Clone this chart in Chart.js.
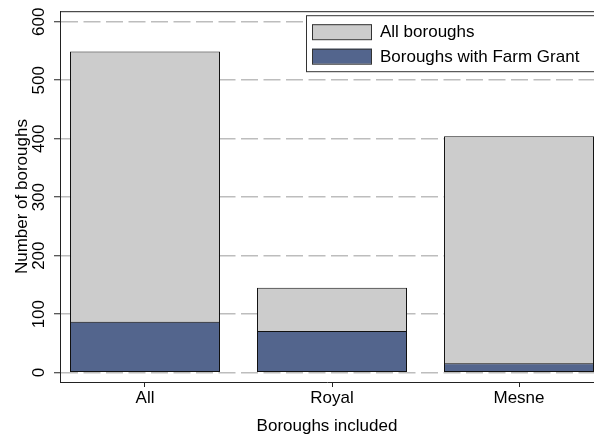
<!DOCTYPE html>
<html>
<head>
<meta charset="utf-8">
<script src="https://cdn.jsdelivr.net/npm/chart.js@4/dist/chart.umd.min.js"></script>
<style>
  body { margin: 0; background: #fff; }
  #chart { display: block; }
</style>
</head>
<body>
<canvas id="chart" width="594" height="440"></canvas>
<script>
  // Borough counts
  const categories = ['All', 'Royal', 'Mesne'];
  const allBoroughs = [549, 145, 404];
  const farmGrant = [87, 71, 16];
  const yTicks = [0, 100, 200, 300, 400, 500, 600];
  const seriesLabels = ['All boroughs', 'Boroughs with Farm Grant'];

  const FONT = 'Liberation Sans, Arial, Helvetica, sans-serif';
  const GRAY = '#cccccc';
  const BLUE = '#53658d';
  const EDGE = '#111';

  // Top frame line + boxed legend inside the plot
  const framePlugin = {
    id: 'frame',
    afterDraw(chart) {
      const ctx = chart.ctx;
      const a = chart.chartArea;
      ctx.save();
      ctx.strokeStyle = '#222';
      ctx.lineWidth = 1;
      ctx.beginPath();
      ctx.moveTo(a.left, a.top + 0.5);
      ctx.lineTo(a.right, a.top + 0.5);
      ctx.stroke();

      const lx = a.left + 246, ly = a.top + 4;
      ctx.fillStyle = '#fff';
      ctx.fillRect(lx, ly, a.right - lx + 5, 56);
      ctx.strokeStyle = '#333';
      ctx.strokeRect(lx + 0.5, ly + 0.5, a.right - lx + 5, 56);

      const fills = [GRAY, BLUE];
      ctx.font = '17px ' + FONT;
      ctx.textBaseline = 'middle';
      seriesLabels.forEach((txt, i) => {
        const ry = ly + 16.5 + i * 24.5;
        ctx.fillStyle = fills[i];
        ctx.fillRect(lx + 6, ry - 7.5, 60, 15);
        ctx.strokeStyle = '#333';
        ctx.strokeRect(lx + 6.5, ry - 7, 59, 15);
        ctx.fillStyle = '#000';
        ctx.fillText(txt, lx + 74, ry + 1);
      });
      ctx.restore();
    }
  };

  const ctx = document.getElementById('chart').getContext('2d');
  const chart = new Chart(ctx, {
    type: 'bar',
    data: {
      datasets: [{
        label: seriesLabels[0],
        data: allBoroughs.map((v, i) => ({ x: i, y: v })),
        backgroundColor: GRAY,
        borderColor: EDGE,
        borderWidth: 1,
        borderSkipped: false,
        order: 2
      }, {
        label: seriesLabels[1],
        data: farmGrant.map((v, i) => ({ x: i, y: v })),
        backgroundColor: BLUE,
        borderColor: EDGE,
        borderWidth: 1,
        borderSkipped: false,
        order: 1
      }]
    },
    options: {
      responsive: false,
      animation: false,
      grouped: false,
      barPercentage: 0.802,
      categoryPercentage: 1,
      layout: { padding: { top: 10, right: 0, left: 0, bottom: 0 } },
      plugins: {
        legend: { display: false },
        tooltip: { enabled: false }
      },
      scales: {
        x: {
          type: 'linear',
          offset: false,
          min: -0.4545,
          max: 2.401,
          afterBuildTicks: s => { s.ticks = categories.map((c, i) => ({ value: i })); },
          afterFit: s => { s.height = 58; },
          grid: { display: true, offset: false, drawOnChartArea: false, tickLength: 5, tickColor: '#222' },
          border: { color: '#222', width: 1 },
          ticks: {
            color: '#000',
            font: { family: FONT, size: 17 },
            padding: 1,
            maxRotation: 0,
            callback: v => categories[v]
          },
          title: {
            display: true,
            text: 'Boroughs included',
            color: '#000',
            font: { family: FONT, size: 17 },
            padding: { top: 0, bottom: 3 }
          }
        },
        y: {
          min: -16,
          max: 618,
          afterBuildTicks: s => { s.ticks = yTicks.map(v => ({ value: v })); },
          afterFit: s => { s.width = 60; },
          grid: {
            color: '#bdbdbd',
            lineWidth: 1.5,
            tickBorderDash: [],
            tickColor: '#222',
            tickWidth: 1,
            tickLength: 6
          },
          border: { color: '#222', width: 1, dash: [17, 5.5] },
          ticks: {
            color: '#000',
            font: { family: FONT, size: 17 },
            minRotation: 90,
            maxRotation: 90,
            crossAlign: 'center',
            padding: 1
          },
          title: {
            display: true,
            text: 'Number of boroughs',
            color: '#000',
            font: { family: FONT, size: 17 },
            padding: { top: 12, bottom: 0 }
          }
        }
      }
    },
    plugins: [framePlugin]
  });
</script>
</body>
</html>
